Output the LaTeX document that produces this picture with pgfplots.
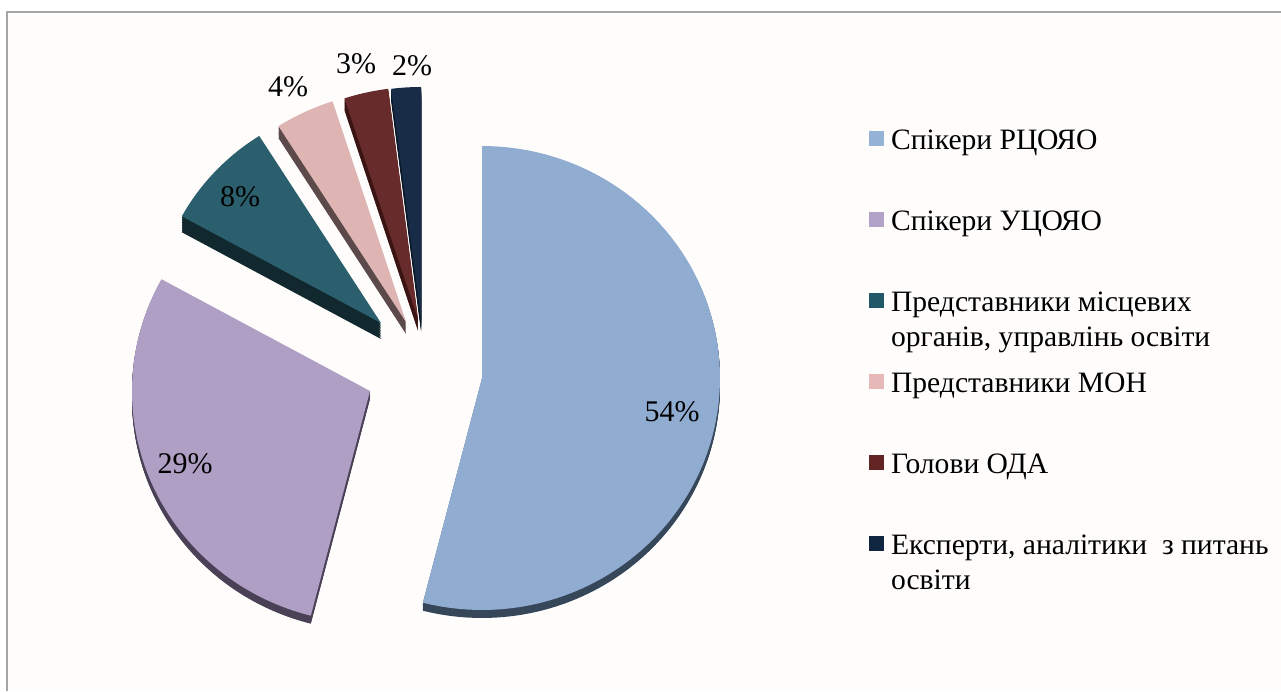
\documentclass[border=0pt]{standalone}
\usepackage{fontspec}
\setmainfont{Liberation Serif}
\usepackage{pgfplots}
\pgfplotsset{compat=1.18}

\definecolor{bgc}{HTML}{FEFDFC}
\definecolor{framec}{HTML}{A6A6A6}
% top faces
\definecolor{t1}{HTML}{91ACD1}
\definecolor{t2}{HTML}{AF9FC4}
\definecolor{t3}{HTML}{2B5F6D}
\definecolor{t4}{HTML}{DFB5B4}
\definecolor{t5}{HTML}{662B2A}
\definecolor{t6}{HTML}{182C48}
% side faces
\definecolor{s1}{HTML}{37475A}
\definecolor{s2}{HTML}{4A4157}
\definecolor{s3}{HTML}{10282E}
\definecolor{s4}{HTML}{5C4A4A}
\definecolor{s5}{HTML}{3A1514}
\definecolor{s6}{HTML}{0C1828}
% legend
\definecolor{l1}{HTML}{95B3D7}
\definecolor{l2}{HTML}{B3A2C7}
\definecolor{l3}{HTML}{215968}
\definecolor{l4}{HTML}{E6B9B8}
\definecolor{l5}{HTML}{632523}
\definecolor{l6}{HTML}{10253F}

% #1 start angle, #2 value (%), #3 apex x, #4 apex y, #5 radius scale, #6 depth, #7 top colour, #8 side colour
\newcommand\slice[8]{%
  \pgfmathsetmacro\sa{#1}%
  \pgfmathsetmacro\ea{#1-3.6*#2}%
  \pgfplotsinvokeforeach{1,0.9,0.8,0.7,0.6,0.5,0.4,0.3,0.2,0.1}{%
    \addplot[forget plot, draw=none, fill=#8, domain=\ea:\sa, samples=90, variable=\t]
      ({#3+#5*238*cos(t)}, {#4-#6*##1+#5*232*sin(t)}) -- (axis cs:#3,{#4-#6*##1}) -- cycle;
  }%
  \addplot[forget plot, draw=none, fill=#7, domain=\ea:\sa, samples=90, variable=\t]
    ({#3+#5*238*cos(t)}, {#4+#5*232*sin(t)}) -- (axis cs:#3,#4) -- cycle;
}

\pgfplotsset{sq/.style={legend image code/.code={\fill[##1] (0pt,-7.5pt) rectangle (15pt,7.5pt);}}}
\newcommand\lgd[1]{\raisebox{0pt}[22pt][4pt]{\begin{tabular}[t]{@{}l@{}}#1\end{tabular}}}

\begin{document}
\begin{tikzpicture}
\useasboundingbox (0,0) rectangle (1281pt,691pt);
\fill[white] (0,0) rectangle (1281pt,691pt);
\fill[bgc] (7pt,0) rectangle (1281pt,679pt);
\draw[framec, line width=1.2pt] (7pt,0) -- (7pt,679pt) -- (1281pt,679pt);
\begin{axis}[
  at={(0,0)}, anchor=south west,
  x=1pt, y=1pt,
  xmin=0, xmax=1281, ymin=0, ymax=691,
  hide axis, clip=false,
  font=\fontsize{30}{36}\selectfont,
  legend cell align=left,
  legend style={
    at={(0.6784,0.8162)}, anchor=north west,
    draw=none, fill=none, inner sep=0pt, outer sep=0pt,
    row sep=57.5pt,
    font=\fontsize{29.6}{35}\selectfont,
    nodes={inner sep=0pt},
    /tikz/every odd column/.append style={column sep=7pt},
  },
]
% values 2, 3, 4, 8, 29, 54 (drawn back to front)
\slice{97.2}{2}{421}{372}{1}{12}{t6}{s6}
\slice{108}{3}{418}{372}{1}{12}{t5}{s5}
\slice{122.4}{4}{406}{369}{1}{12}{t4}{s4}
\slice{151.2}{8}{381}{368}{0.955}{16}{t3}{s3}
\slice{-104.4}{29}{370}{300}{1}{8}{t2}{s2}
\slice{90}{54}{482}{313}{1}{8}{t1}{s1}

\node at (axis cs:672,279) {54\%};
\node at (axis cs:185,227) {29\%};
\node at (axis cs:240,494) {8\%};
\node at (axis cs:288,604) {4\%};
\node at (axis cs:356,627) {3\%};
\node at (axis cs:412,625) {2\%};

\addlegendimage{sq, fill=l1, draw=none}
\addlegendentry{\lgd{Спікери РЦОЯО}}
\addlegendimage{sq, fill=l2, draw=none}
\addlegendentry{\lgd{Спікери УЦОЯО}}
\addlegendimage{sq, fill=l3, draw=none}
\addlegendentry{\lgd{Представники місцевих\\органів, управлінь освіти}}
\addlegendimage{sq, fill=l4, draw=none}
\addlegendentry{\lgd{Представники МОН}}
\addlegendimage{sq, fill=l5, draw=none}
\addlegendentry{\lgd{Голови ОДА}}
\addlegendimage{sq, fill=l6, draw=none}
\addlegendentry{\lgd{Експерти, аналітики\ \ з питань\\освіти}}
\end{axis}
\end{tikzpicture}
\end{document}
